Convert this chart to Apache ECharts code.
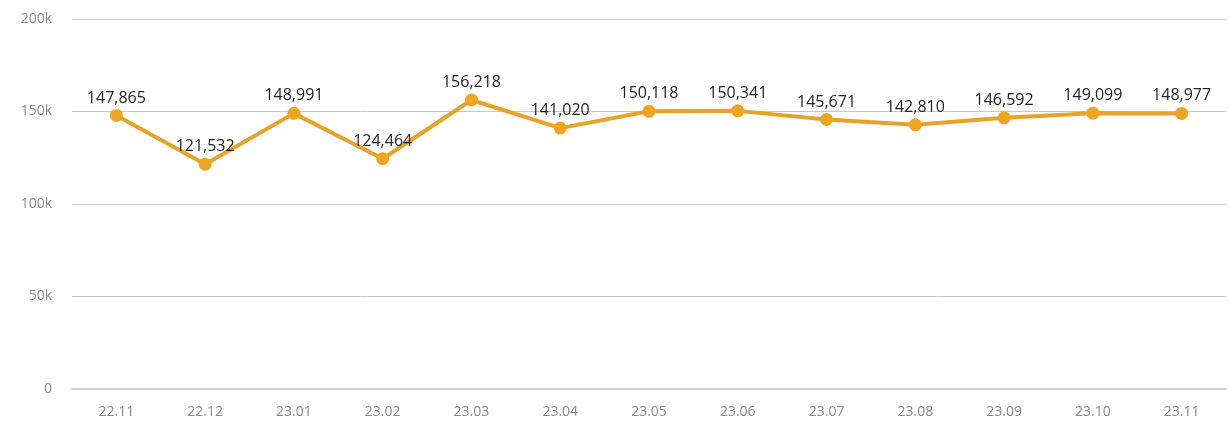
<!DOCTYPE html>
<html>
<head>
<meta charset="UTF-8">
<script src="https://cdn.jsdelivr.net/npm/echarts@6/dist/echarts.min.js"></script>
<style>
  html, body { margin: 0; padding: 0; background: #fff; }
  #chart { width: 1229px; height: 423px; }
</style>
</head>
<body>
<div id="chart"></div>
<script>
  // months and values
  const months = ['22.11', '22.12', '23.01', '23.02', '23.03', '23.04', '23.05', '23.06', '23.07', '23.08', '23.09', '23.10', '23.11'];
  const values = [147865, 121532, 148991, 124464, 156218, 141020, 150118, 150341, 145671, 142810, 146592, 149099, 148977];

  const chart = echarts.init(document.getElementById('chart'));
  chart.setOption({
    animation: false,
    grid: { left: 72, right: 3, top: 19, bottom: 34 },
    xAxis: {
      type: 'category',
      data: months,
      axisLine: { lineStyle: { color: '#cfcfcf', width: 2 } },
      axisTick: { show: false },
      axisLabel: { color: '#8a8a8a', fontSize: 14, fontFamily: 'Open Sans', letterSpacing: 2, margin: 16 }
    },
    yAxis: {
      type: 'value',
      min: 0, max: 200000, interval: 50000,
      axisLine: { show: false },
      axisTick: { show: false },
      splitLine: { lineStyle: { color: '#c8c8c8' } },
      axisLabel: {
        color: '#8a8a8a', fontSize: 14, fontFamily: 'Open Sans', letterSpacing: 2, margin: 20,
        formatter: v => v === 0 ? '0' : (v / 1000) + 'k'
      }
    },
    series: [{
      type: 'line',
      data: values,
      symbol: 'circle',
      symbolSize: 13,
      lineStyle: { color: '#e6a327', width: 4 },
      itemStyle: { color: '#f0a422' },
      label: {
        show: true,
        position: 'top',
        distance: 3,
        color: '#222',
        fontSize: 16,
        fontFamily: 'Open Sans',
        letterSpacing: 1,
        formatter: p => p.value.toLocaleString('en-US')
      }
    }]
  });
</script>
</body>
</html>
